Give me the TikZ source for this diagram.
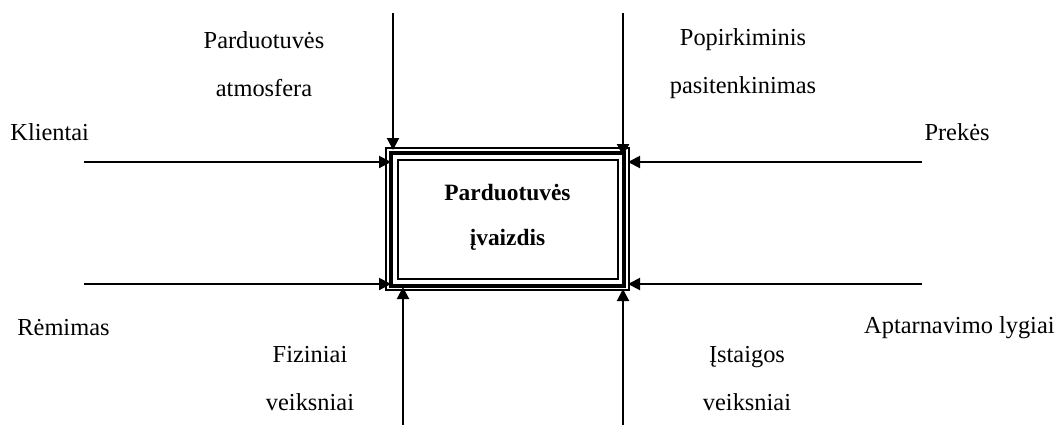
\documentclass[tikz,border=0pt]{standalone}
\usepackage{fontspec}
\setmainfont{Liberation Serif}
\usetikzlibrary{arrows.meta}
\begin{document}
\begin{tikzpicture}[x=0.5pt,y=-0.5pt,
  lbl/.style={font=\fontsize{12.2}{24}\selectfont, inner sep=0pt, align=center},
  feed/.style={line width=1pt,-{Triangle[length=6pt,width=6pt]}},
]
\useasboundingbox (0,0) rectangle (1061,425);

% central box: thin outer frame, thick frame, thin inner frame
\node[draw, line width=0.6pt, minimum width=121.5pt, minimum height=71pt, inner sep=0pt] (box) at (507.5,219) {};
\draw[line width=2pt] ([shift={(2.8pt,2.2pt)}]box.south west) rectangle ([shift={(-2.6pt,-2.6pt)}]box.north east);
\draw[line width=1pt] ([shift={(6.5pt,6pt)}]box.south west) rectangle ([shift={(-6pt,-6.5pt)}]box.north east);
\node[font=\bfseries\fontsize{11.7}{22.5}\selectfont, align=center, inner sep=0pt] (title) at (507.5,217.5) {Parduotuvės\\įvaizdis};

% line end points
\coordinate (kl) at (84,162);   \coordinate (klE) at (391,162);
\coordinate (pr) at (922,162);  \coordinate (prE) at (628,162);
\coordinate (re) at (84,284);   \coordinate (reE) at (391,284);
\coordinate (ap) at (922,284);  \coordinate (apE) at (628,284);
\coordinate (at) at (393,13);   \coordinate (atE) at (393,150);
\coordinate (po) at (623,13);   \coordinate (poE) at (623,156);
\coordinate (fi) at (403,425);  \coordinate (fiE) at (403,287);
\coordinate (is) at (623,425);  \coordinate (isE) at (623,289);

\draw[feed] (kl) -- (klE);
\draw[feed] (pr) -- (prE);
\draw[feed] (re) -- (reE);
\draw[feed] (ap) -- (apE);
\draw[feed] (at) -- (atE);
\draw[feed] (po) -- (poE);
\draw[feed] (fi) -- (fiE);
\draw[feed] (is) -- (isE);

% labels
\node[lbl, anchor=west] (lkl) at (10,132) {Klientai};
\node[lbl, anchor=east] (lpr) at (990,132) {Prekės};
\node[lbl, anchor=west] (lre) at (17,328) {Rėmimas};
\node[lbl, anchor=east] (lap) at (1055,328) {Aptarnavimo lygiai};
\node[lbl] (lat) at (264,64) {Parduotuvės\\atmosfera};
\node[lbl] (lpo) at (743,64) {Popirkiminis\\pasitenkinimas};
\node[lbl] (lfi) at (310,379) {Fiziniai\\veiksniai};
\node[lbl] (lis) at (747,379) {Įstaigos\\veiksniai};
\end{tikzpicture}
\end{document}
